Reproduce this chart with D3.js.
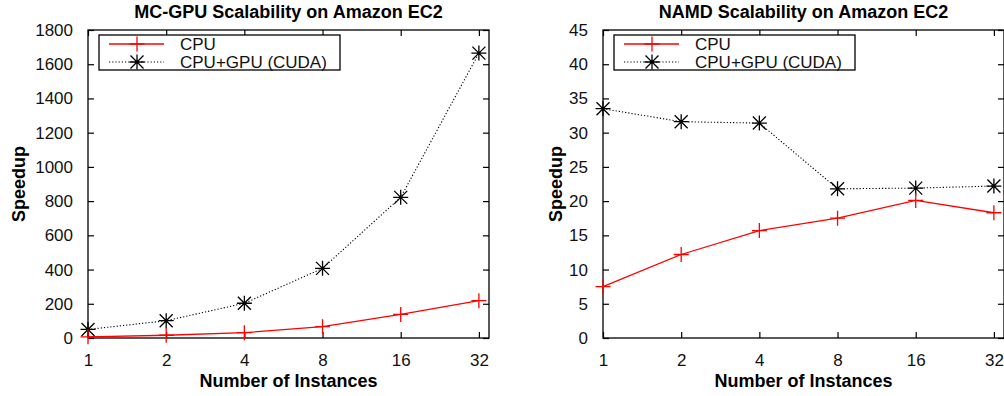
<!DOCTYPE html>
<html><head><meta charset="utf-8">
<script src="https://cdn.jsdelivr.net/npm/d3@7"></script>
<style>
html,body{margin:0;padding:0;background:#fff;overflow:hidden;}
svg{display:block;font-family:"Liberation Sans",Arial,sans-serif;}
</style></head>
<body>
<svg id="chart" width="1004" height="396"></svg>
<script>
const instances = [1, 2, 4, 8, 16, 32];
const mcCpu = [7, 16, 31, 66, 138, 218];
const mcGpu = [50, 101, 203, 407, 822, 1665];
const namdCpu = [7.5, 12.2, 15.7, 17.5, 20.1, 18.3];
const namdGpu = [33.5, 31.6, 31.4, 21.8, 21.9, 22.2];
const mcYTicks = [0, 200, 400, 600, 800, 1000, 1200, 1400, 1600, 1800];
const namdYTicks = [0, 5, 10, 15, 20, 25, 30, 35, 40, 45];
const seriesNames = ["CPU", "CPU+GPU (CUDA)"];
const titles = ["MC-GPU Scalability on Amazon EC2", "NAMD Scalability on Amazon EC2"];
const xLabel = "Number of Instances";
const yLabel = "Speedup";

const svg = d3.select("#chart");
const FONT = "Liberation Sans, Arial, sans-serif";

function panel(opts) {
  const {left, right, top, bottom, yMax, yTicks, cpu, gpu, title, yLabelX} = opts;
  const g = svg.append("g");
  const x = d3.scaleLog().base(2).domain([1, 35]).range([left, right]);
  const y = d3.scaleLinear().domain([0, yMax]).range([bottom, top]);
  const tl = 6;

  g.append("rect").attr("x", left).attr("y", top).attr("width", right - left).attr("height", bottom - top)
    .attr("fill", "none").attr("stroke", "#000").attr("stroke-width", 1.3);

  const yAxisL = d3.axisLeft(y).tickValues(yTicks).tickFormat(d3.format("d")).tickSize(-tl).tickPadding(9 + tl);
  const gy = g.append("g").attr("transform", `translate(${left},0)`).call(yAxisL);
  const yAxisR = d3.axisRight(y).tickValues(yTicks).tickSize(-tl).tickFormat("");
  const gyr = g.append("g").attr("transform", `translate(${right},0)`).call(yAxisR);
  const xAxisB = d3.axisBottom(x).tickValues(instances).tickFormat(d3.format("d")).tickSize(-tl).tickPadding(10 + tl);
  const gx = g.append("g").attr("transform", `translate(0,${bottom})`).call(xAxisB);
  const xAxisT = d3.axisTop(x).tickValues(instances).tickSize(-tl).tickFormat("");
  const gxt = g.append("g").attr("transform", `translate(0,${top})`).call(xAxisT);
  [gy, gyr, gx, gxt].forEach(a => {
    a.select(".domain").remove();
    a.selectAll("line").attr("stroke", "#000").attr("stroke-width", 1.2);
    a.selectAll("text").attr("fill", "#111").style("font-size", "17px").style("font-family", FONT);
  });

  g.append("text").attr("x", (left + right) / 2).attr("y", 18)
    .attr("text-anchor", "middle").style("font-weight", "bold").style("font-size", "18px").text(title);
  g.append("text").attr("x", (left + right) / 2).attr("y", 387)
    .attr("text-anchor", "middle").style("font-weight", "bold").style("font-size", "18px").text(xLabel);
  g.append("text").attr("transform", `translate(${yLabelX},${(top + bottom) / 2}) rotate(-90)`)
    .attr("text-anchor", "middle").style("font-weight", "bold").style("font-size", "18px").text(yLabel);

  const line = d3.line().x((d, i) => x(instances[i])).y(d => y(d));

  g.append("path").datum(gpu).attr("d", line).attr("fill", "none").attr("stroke", "#000")
    .attr("stroke-width", 1.1).attr("stroke-dasharray", "1.2,2");
  g.append("path").datum(cpu).attr("d", line).attr("fill", "none").attr("stroke", "#ff0000").attr("stroke-width", 1.3);

  const s = 7.5, d = 6.5;
  function star(sel, cx, cy) {
    sel.append("path").attr("d",
      `M${cx - s},${cy}L${cx + s},${cy}M${cx},${cy - s}L${cx},${cy + s}` +
      `M${cx - d},${cy - d}L${cx + d},${cy + d}M${cx - d},${cy + d}L${cx + d},${cy - d}`)
      .attr("stroke", "#000").attr("stroke-width", 1.3).attr("fill", "none");
  }
  function plus(sel, cx, cy) {
    sel.append("path").attr("d", `M${cx - s},${cy}L${cx + s},${cy}M${cx},${cy - s}L${cx},${cy + s}`)
      .attr("stroke", "#ff0000").attr("stroke-width", 1.3).attr("fill", "none");
  }
  gpu.forEach((v, i) => star(g, x(instances[i]), y(v)));
  cpu.forEach((v, i) => plus(g, x(instances[i]), y(v)));

  const lx = left + 11, ly = top + 5, lw = 241, lh = 35;
  g.append("rect").attr("x", lx).attr("y", ly).attr("width", lw).attr("height", lh)
    .attr("fill", "#fff").attr("stroke", "#000").attr("stroke-width", 1.3);
  const rows = [ly + 9, ly + 27];
  g.append("line").attr("x1", lx + 10).attr("x2", lx + 65).attr("y1", rows[0]).attr("y2", rows[0])
    .attr("stroke", "#ff0000").attr("stroke-width", 1.3);
  plus(g, lx + 38, rows[0]);
  g.append("line").attr("x1", lx + 10).attr("x2", lx + 65).attr("y1", rows[1]).attr("y2", rows[1])
    .attr("stroke", "#000").attr("stroke-width", 1.1).attr("stroke-dasharray", "1.2,2");
  star(g, lx + 38, rows[1]);
  seriesNames.forEach((n, i) => {
    g.append("text").attr("x", lx + 81).attr("y", rows[i]).attr("dy", "0.36em")
      .style("font-size", "17px").attr("fill", "#111").text(n);
  });
}

panel({left: 88, right: 489, top: 30, bottom: 338, yMax: 1800, yTicks: mcYTicks, cpu: mcCpu, gpu: mcGpu, title: titles[0], yLabelX: 25});
panel({left: 603, right: 1004, top: 30, bottom: 338, yMax: 45, yTicks: namdYTicks, cpu: namdCpu, gpu: namdGpu, title: titles[1], yLabelX: 562});
</script>
</body></html>
